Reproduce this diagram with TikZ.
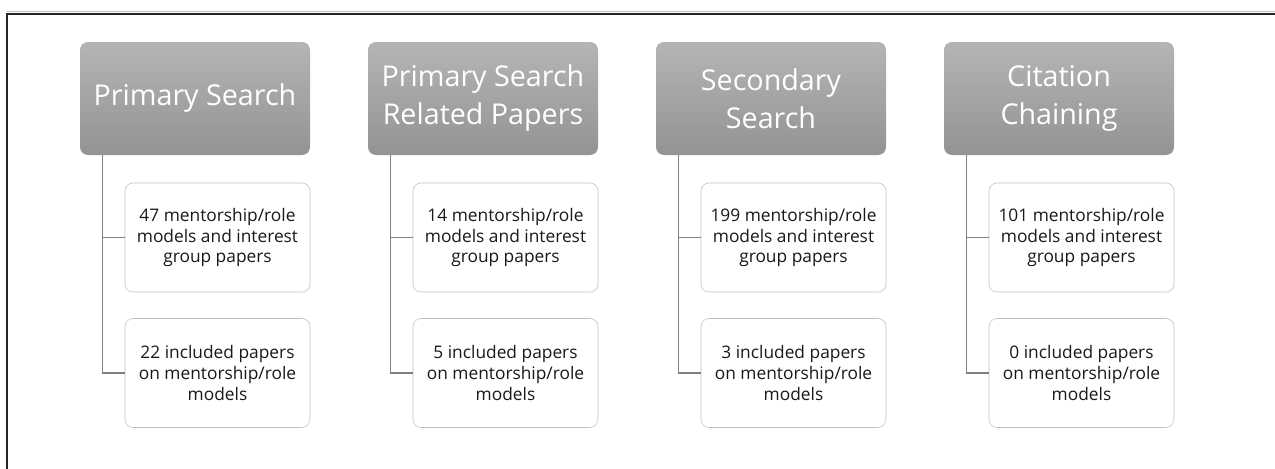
\documentclass[tikz,border=0pt]{standalone}
\usepackage{fontspec}
\setmainfont{Open Sans}
\usetikzlibrary{positioning}

\definecolor{headtop}{HTML}{B5B5B5}
\definecolor{headbot}{HTML}{939393}
\definecolor{boxline}{HTML}{BFBFBF}
\definecolor{linkline}{HTML}{7F7F7F}

\begin{document}
\begin{tikzpicture}[
        x=0.75pt, y=-0.75pt,
        head/.style={
                rounded corners=6pt,
                top color=headtop, bottom color=headbot,
                minimum width=172.5pt, minimum height=84.75pt,
                align=center, text=white,
                font=\fontsize{21.5}{28.5}\selectfont,
            },
        result/.style={
                draw=boxline, rounded corners=6pt, fill=white,
                minimum width=138.75pt, minimum height=81.75pt,
                align=center, text=black!90,
                font=\fontsize{13}{15.5}\selectfont,
            },
        link/.style={draw=linkline, line width=0.8pt},
    ]

    \useasboundingbox (0,0) rectangle (1275,468);

    % frame round the figure
    \draw[gray!50, line width=0.6pt] (7,11.5) -- (1290,11.5);
    \draw[black!85, line width=1.4pt] (7,490) -- (7,14) -- (1290,14);

    % one column per search stage
    \foreach \i/\stage/\found/\kept in {
            0/{Primary Search}/47/22,
            1/{Primary Search\\Related Papers}/14/5,
            2/{Secondary\\Search}/199/3,
            3/{Citation\\Chaining}/101/0}{
            \node[head] (h\i) at (195+288*\i, 98.5) {\stage};
            \node[result] (a\i) at (217.5+288*\i, 237.5)
            {\found\ mentorship/role\\models and interest\\group papers};
            \node[result] (b\i) at (217.5+288*\i, 373)
            {\kept\ included papers\\on mentorship/role\\models};

            \draw[link] ([xshift=17.25pt]h\i.south west) |- (a\i.west);
            \draw[link] ([xshift=17.25pt]h\i.south west) |- (b\i.west);
        }
\end{tikzpicture}
\end{document}
